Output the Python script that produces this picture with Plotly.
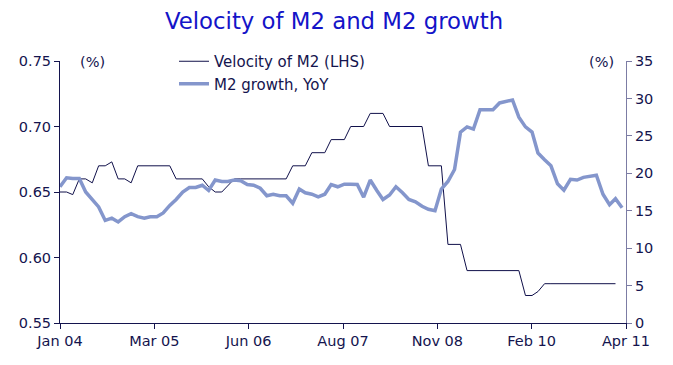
import pandas as pd
import plotly.graph_objects as go

# ---------------- data ----------------
months = pd.date_range("2004-01-01", "2011-04-01", freq="MS")  # Jan 04 .. Apr 11

velocity_m2 = [
    0.650, 0.650, 0.648, 0.660, 0.660, 0.657, 0.670, 0.670, 0.673, 0.660,
    0.660, 0.657, 0.670, 0.670, 0.670, 0.670, 0.670, 0.670, 0.660, 0.660,
    0.660, 0.660, 0.660, 0.654, 0.650, 0.650, 0.655, 0.660, 0.660, 0.660,
    0.660, 0.660, 0.660, 0.660, 0.660, 0.660, 0.670, 0.670, 0.670, 0.680,
    0.680, 0.680, 0.690, 0.690, 0.690, 0.700, 0.700, 0.700, 0.710, 0.710,
    0.710, 0.700, 0.700, 0.700, 0.700, 0.700, 0.700, 0.670, 0.670, 0.670,
    0.610, 0.610, 0.610, 0.590, 0.590, 0.590, 0.590, 0.590, 0.590, 0.590,
    0.590, 0.590, 0.571, 0.571, 0.574, 0.580, 0.580, 0.580, 0.580, 0.580,
    0.580, 0.580, 0.580, 0.580, 0.580, 0.580, 0.580,
]

m2_growth = [
    18.2, 19.4, 19.3, 19.3, 17.5, 16.4, 15.5, 13.7, 14.0, 13.5,
    14.2, 14.6, 14.2, 14.0, 14.2, 14.2, 14.7, 15.7, 16.5, 17.5,
    18.1, 18.1, 18.4, 17.7, 19.1, 18.9, 18.9, 19.1, 19.0, 18.5,
    18.4, 18.0, 17.0, 17.2, 17.0, 17.0, 16.0, 17.9, 17.4, 17.2,
    16.85, 17.2, 18.5, 18.2, 18.55, 18.55, 18.5, 16.8, 19.1, 17.7,
    16.5, 17.1, 18.2, 17.4, 16.5, 16.2, 15.6, 15.2, 15.0, 17.9,
    18.9, 20.5, 25.5, 26.2, 25.9, 28.5, 28.5, 28.5, 29.4, 29.65,
    29.8, 27.5, 26.2, 25.5, 22.7, 21.8, 21.0, 18.6, 17.75, 19.2,
    19.1, 19.45, 19.6, 19.75, 17.2, 15.8, 16.6, 15.4,
]

tick_labels = ["Jan 04", "Mar 05", "Jun 06", "Aug 07", "Nov 08", "Feb 10", "Apr 11"]

# ---------------- styling ----------------
FONT = "DejaVu Sans, Verdana, sans-serif"
NAVY = "#14144e"
BLUE_LINE = "#8496cc"
TITLE_BLUE = "#1414c8"

x_start = pd.Timestamp("2004-01-01")
x_end = pd.Timestamp("2011-04-19 12:00")
tick_pos = [x_start + (x_end - x_start) * k / 6 for k in range(7)]

fig = go.Figure()
fig.add_trace(go.Scatter(
    x=months[:len(velocity_m2)], y=velocity_m2, mode="lines",
    name="Velocity of M2 (LHS)", line=dict(color="#10104a", width=1),
    yaxis="y", legend="legend",
))
fig.add_trace(go.Scatter(
    x=months[:len(m2_growth)], y=m2_growth, mode="lines",
    name="M2 growth, YoY", line=dict(color=BLUE_LINE, width=3.5),
    yaxis="y2", legend="legend2",
))

# the page body adds an 8px margin around the figure
OFF = 8
W, H = 673 - 2 * OFF, 365 - 2 * OFF
PL, PR, PT, PB = 60, 626, 61, 323          # plot area in page pixels
ml, mr, mt, mb = PL - OFF, W - (PR - OFF), PT - OFF, H - (PB - OFF)

def px(page_x):
    return (page_x - PL) / (PR - PL)

def py(page_y):
    return (PB - page_y) / (PB - PT)

fig.update_layout(
    width=W, height=H,
    margin=dict(l=ml, r=mr, t=mt, b=mb, autoexpand=False),
    paper_bgcolor="white", plot_bgcolor="white",
    font=dict(family=FONT, size=14.5, color=NAVY),
    title=dict(text="Velocity of M2 and M2 growth",
               x=(334 - OFF) / W, xanchor="center",
               y=1 - (21 - OFF) / H, yanchor="middle", yref="container",
               font=dict(family=FONT, size=22.8, color=TITLE_BLUE)),
    xaxis=dict(
        type="date", range=[x_start, x_end],
        tickmode="array", tickvals=tick_pos, ticktext=tick_labels,
        showgrid=False, zeroline=False,
        showline=True, linecolor=NAVY, linewidth=1,
        ticks="outside", ticklen=5, tickcolor=NAVY,
        tickfont=dict(family=FONT, size=14.5, color=NAVY),
    ),
    yaxis=dict(
        range=[0.55, 0.75], dtick=0.05, tickformat=".2f",
        showgrid=False, zeroline=False,
        showline=True, linecolor=NAVY, linewidth=1,
        ticks="outside", ticklen=5, tickcolor=NAVY,
        tickfont=dict(family=FONT, size=14.5, color=NAVY),
    ),
    yaxis2=dict(
        range=[0, 35], dtick=5, overlaying="y", side="right",
        showgrid=False, zeroline=False,
        showline=True, linecolor="#7c7ca4", linewidth=1,
        ticks="outside", ticklen=5, tickcolor="#7c7ca4",
        tickfont=dict(family=FONT, size=14.5, color=NAVY),
    ),
    legend=dict(x=px(174), xanchor="left", y=py(61.5), yanchor="middle",
                bgcolor="rgba(0,0,0,0)", font=dict(family=FONT, size=15, color=NAVY)),
    legend2=dict(x=px(174), xanchor="left", y=py(84), yanchor="middle",
                 bgcolor="rgba(0,0,0,0)", font=dict(family=FONT, size=15, color=NAVY)),
    showlegend=True,
    annotations=[
        dict(text="(%)", xref="paper", yref="paper", x=px(92), y=py(62),
             xanchor="center", yanchor="middle", showarrow=False,
             font=dict(family=FONT, size=14.5, color=NAVY)),
        dict(text="(%)", xref="paper", yref="paper", x=px(601), y=py(62),
             xanchor="center", yanchor="middle", showarrow=False,
             font=dict(family=FONT, size=14.5, color=NAVY)),
    ],
)

fig.write_html("out.html", config={"displayModeBar": False})
